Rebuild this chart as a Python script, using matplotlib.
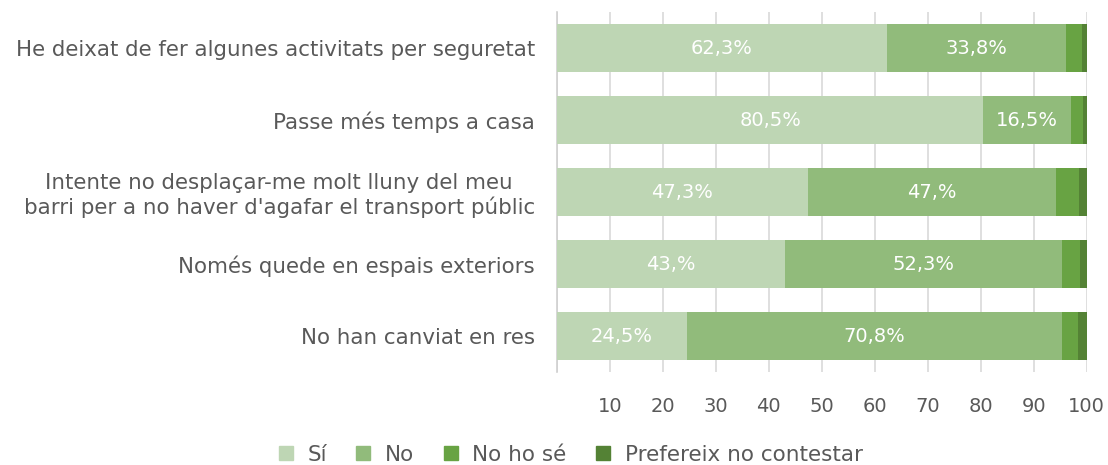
import matplotlib
matplotlib.use("Agg")
import matplotlib.pyplot as plt
import numpy as np

# Dades llegides del gràfic (percentatges)
categories = [
    "He deixat de fer algunes activitats per seguretat",
    "Passe més temps a casa",
    "Intente no desplaçar-me molt lluny del meu\nbarri per a no haver d'agafar el transport públic",
    "Només quede en espais exteriors",
    "No han canviat en res",
]
si = [62.3, 80.5, 47.3, 43.0, 24.5]
no = [33.8, 16.5, 47.0, 52.3, 70.8]
no_ho_se = [3.0, 2.3, 4.2, 3.4, 3.1]
prefereix = [0.9, 0.7, 1.5, 1.3, 1.6]

series_names = ["Sí", "No", "No ho sé", "Prefereix no contestar"]
colors = ["#bed6b4", "#91bb7b", "#68a343", "#548235"]
text_color = "#595959"


def etiqueta(v):
    s = f"{v:.1f}".replace(".", ",")
    if s.endswith(",0"):
        s = s[:-1]
    return s + "%"


plt.rcParams["font.family"] = ["DejaVu Sans"]

fig = plt.figure(figsize=(11.08, 4.65), dpi=100)
ax = fig.add_axes([0.5027, 0.2, 0.9807 - 0.5027, 0.974 - 0.2])

y = np.arange(len(categories))
series = [si, no, no_ho_se, prefereix]
left = np.zeros(len(categories))
for vals, name, col in zip(series, series_names, colors):
    bars = ax.barh(y, vals, left=left, height=0.664, color=col, label=name, zorder=3)
    if name in ("Sí", "No"):
        for b, v in zip(bars, vals):
            ax.text(b.get_x() + b.get_width() / 2, b.get_y() + b.get_height() / 2,
                    etiqueta(v), ha="center", va="center", color="white",
                    fontsize=14, zorder=4)
    left = left + np.array(vals)

ax.set_xlim(0, 100)
ax.set_ylim(-0.5, 4.5)
ax.invert_yaxis()
ax.set_xticks(np.arange(0, 101, 10))
ax.set_xticklabels([""] + [str(t) for t in range(10, 101, 10)])
ax.set_yticks(y)
ax.set_yticklabels(categories, fontsize=15.4)
for lab in ax.get_yticklabels():
    lab.set_multialignment("center")

ax.grid(axis="x", color="#d9d9d9", linewidth=1.2, zorder=0)
for s in ["top", "right", "bottom"]:
    ax.spines[s].set_visible(False)
ax.spines["left"].set_color("#d0d0d0")
ax.spines["left"].set_linewidth(1.2)
ax.tick_params(axis="both", length=0, colors=text_color)
ax.tick_params(axis="x", pad=18, labelsize=14)
ax.tick_params(axis="y", pad=16)

handles = [plt.Line2D([], [], marker="s", linestyle="", markersize=9.5,
                      color=c) for c in colors]
fig.legend(handles, series_names, loc="center", ncol=4, frameon=False,
           bbox_to_anchor=(570 / 1108, 1 - 455 / 465), fontsize=15.5,
           labelcolor=text_color, handlelength=0.8, handletextpad=0.6,
           columnspacing=1.3)

fig.savefig("out.png", dpi=100)
